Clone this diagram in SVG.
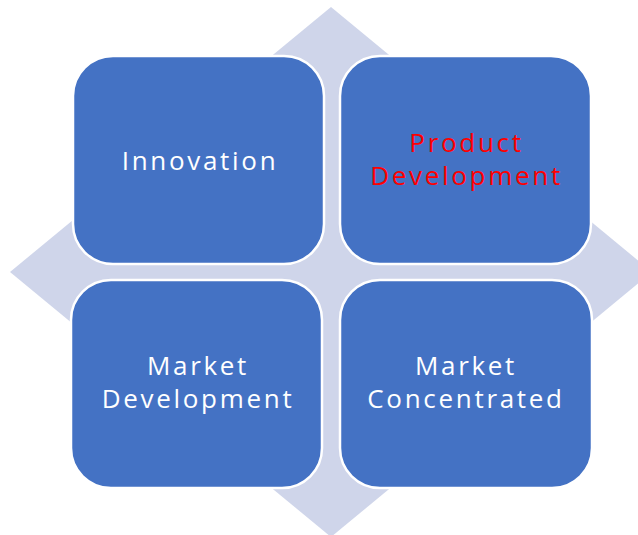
<svg xmlns="http://www.w3.org/2000/svg" width="638" height="535" viewBox="0 0 638 535">
  <style>
    .box { fill: #4472C4; stroke: #FFFFFF; stroke-width: 2.5; }
    .lbl { font-family: "Open Sans", "Noto Sans", "DejaVu Sans", sans-serif; font-size: 26px; letter-spacing: 2.7px; fill: #FFFFFF; text-anchor: middle; }
    .red { fill: #FF0000; }
  </style>
  <rect width="638" height="535" fill="#FFFFFF"/>
  <!-- background diamond -->
  <polygon points="331,7 652,272 331,537 10,272" fill="#CFD5EA"/>
  <g id="innovation">
    <rect class="box" x="73" y="56" width="251" height="208" rx="40" ry="40"/>
    <text class="lbl" x="200" y="169.5">Innovation</text>
  </g>
  <g id="product-development">
    <rect class="box" x="340" y="56" width="251" height="208" rx="40" ry="40"/>
    <text class="lbl red"><tspan x="466.5" y="152">Product</tspan><tspan x="466.5" y="184.5">Development</tspan></text>
  </g>
  <g id="market-development">
    <rect class="box" x="71" y="280" width="251" height="208" rx="40" ry="40"/>
    <text class="lbl"><tspan x="198" y="375">Market</tspan><tspan x="198" y="407.5">Development</tspan></text>
  </g>
  <g id="market-concentrated">
    <rect class="box" x="340" y="280" width="252" height="208" rx="40" ry="40"/>
    <text class="lbl"><tspan x="466" y="375">Market</tspan><tspan x="466" y="407.5">Concentrated</tspan></text>
  </g>
  <g id="connectors"/>
</svg>
